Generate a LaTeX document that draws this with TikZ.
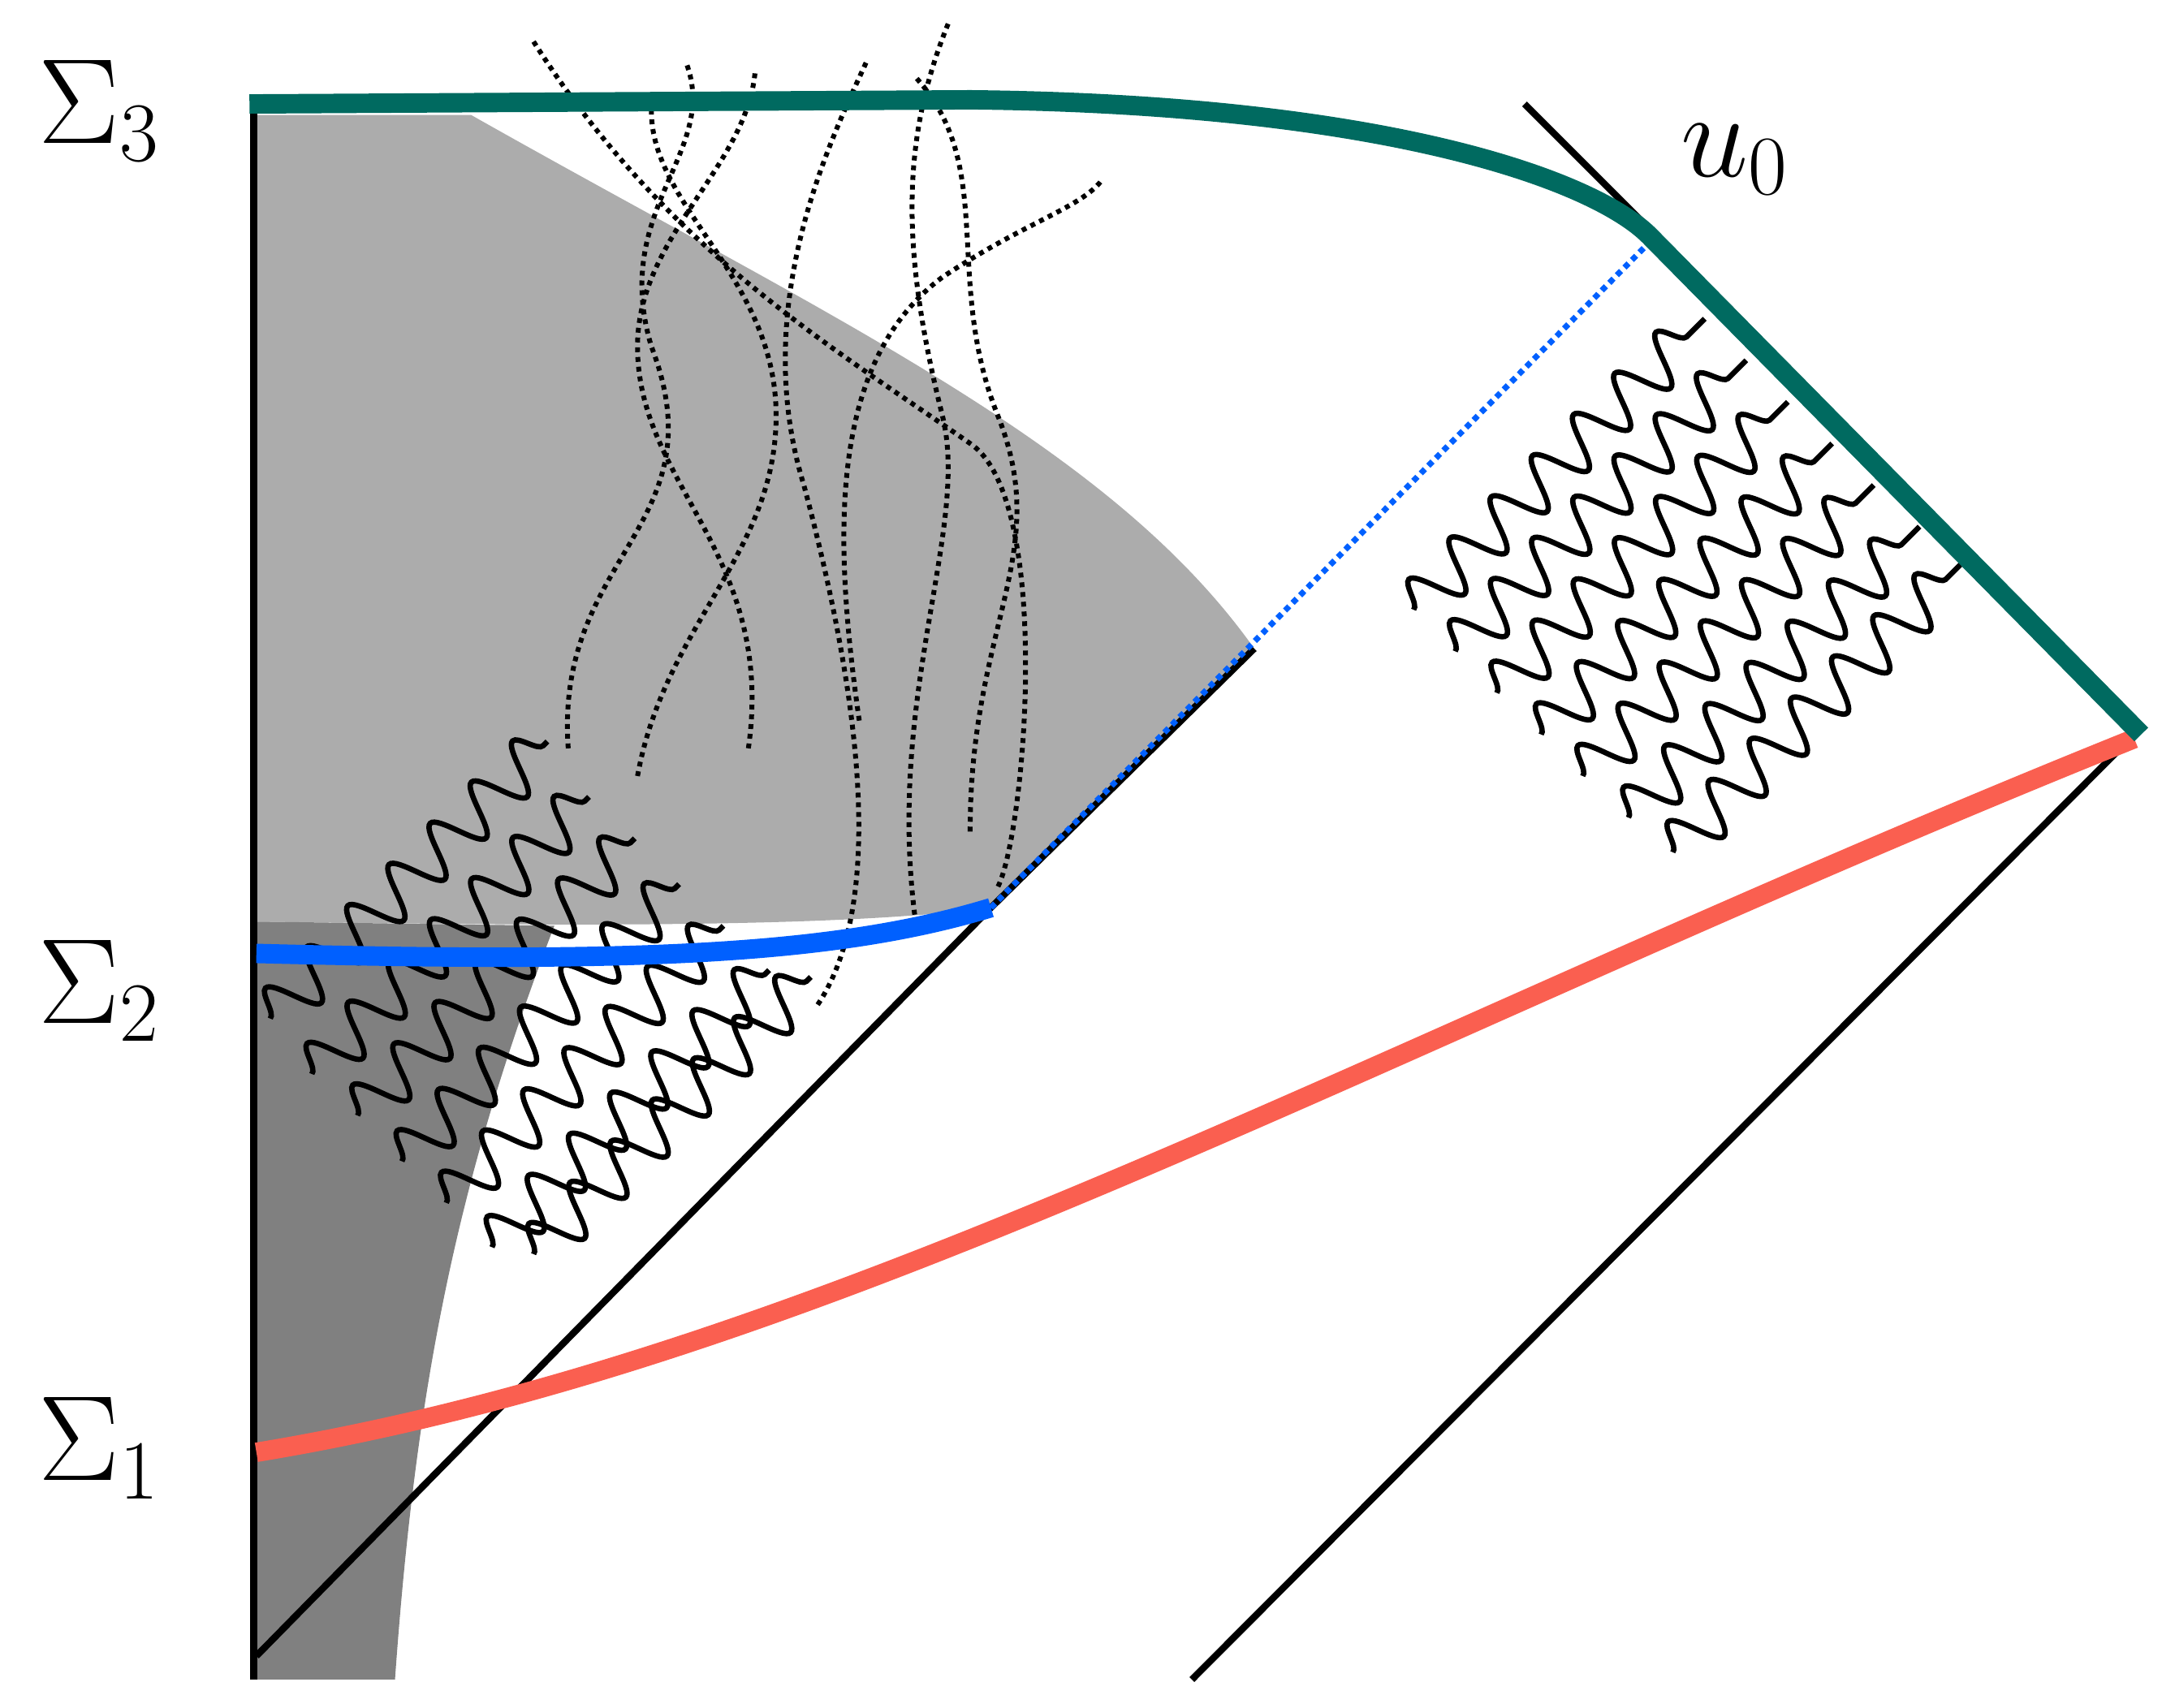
\documentclass[tikz,border=0pt]{standalone}
\usetikzlibrary{decorations.pathmorphing}
\definecolor{teal2}{RGB}{0,106,96}
\definecolor{red2}{RGB}{250,95,80}
\definecolor{blue2}{RGB}{0,96,255}
\tikzset{wave/.style={line width=1.1pt,decorate,decoration={snake,segment length=0.42cm,amplitude=0.18cm}},
dot/.style={densely dotted,line width=1pt},
blk/.style={line width=1.4pt}}
\begin{document}
\begin{tikzpicture}[x=0.01cm,y=-0.01cm]
\useasboundingbox (0,0) rectangle (1560,1232);
% light gray
\fill[gray!65] (183,83) -- (340,83) .. controls (600,230) and (800,320) .. (905,468) -- (715,655) .. controls (600,670) and (400,668) .. (183,665) -- cycle;
% dark gray
\fill[gray] (183,665) -- (400,668) .. controls (330,850) and (300,1000) .. (285,1212) -- (183,1212) -- cycle;
% lines
\draw[blk] (183,80) -- (183,1212);
\coordinate (a) at (185,1195); \coordinate (b) at (715,655); \coordinate (c) at (905,468);
\draw[blk] (a) -- (b) -- (c);
\draw[blue2,densely dotted,line width=1.2pt] (b) -- (1190,175);
\draw[blk] (860,1212) -- (1535,535);
\draw[blk] (1100,75) -- (1190,165);
% waves left
\foreach \x/\y in {195/735,225/775,258/805,290/838,322/868,355/900,385/905}
  \draw[wave] (\x,\y) -- ++(200,-200);
% waves right
\foreach \x/\y in {1020/440,1050/470,1080/500,1112/530,1142/560,1175/590,1207/615}
  \draw[wave] (\x,\y) -- ++(210,-210);
% dotted wanderers
\draw[dot] (385,30) .. controls (480,180) and (600,250) .. (700,320) .. controls (760,360) and (740,600) .. (720,640);
\draw[dot] (410,540) .. controls (400,400) and (520,380) .. (470,250) .. controls (440,150) and (520,110) .. (495,45);
\draw[dot] (540,540) .. controls (560,400) and (460,350) .. (460,250) .. controls (460,170) and (540,120) .. (545,50);
\draw[dot] (590,725) .. controls (640,650) and (620,500) .. (580,350) .. controls (540,220) and (600,100) .. (625,45);
\draw[dot] (660,660) .. controls (640,500) and (700,380) .. (680,300) .. controls (650,180) and (650,100) .. (685,15);
\draw[dot] (700,600) .. controls (700,450) and (760,400) .. (720,300) .. controls (680,200) and (720,120) .. (660,55);
\draw[dot] (620,520) .. controls (600,380) and (600,260) .. (680,200) .. controls (740,160) and (780,150) .. (795,130);
\draw[dot] (460,560) .. controls (480,450) and (560,400) .. (560,300) .. controls (560,200) and (470,150) .. (470,80);
% thick curves
\draw[red2,line width=0.14cm] (185,1048) .. controls (600,980) and (1000,750) .. (1540,533);
\draw[blue2,line width=0.14cm] (185,688) .. controls (450,695) and (600,690) .. (b);
\draw[teal2,line width=0.14cm] (180,75) -- (700,72) .. controls (1000,75) and (1150,130) .. (1190,170) -- (1545,530);
% labels
\begin{scope}[font=\fontsize{25}{30}\selectfont]
\node (s3) at (72,80) {$\Sigma_3$};
\node (s2) at (72,715) {$\Sigma_2$};
\node (s1) at (72,1045) {$\Sigma_1$};
\node (u0) at (1252,115) {$u_0$};
\end{scope}
\end{tikzpicture}
\end{document}
